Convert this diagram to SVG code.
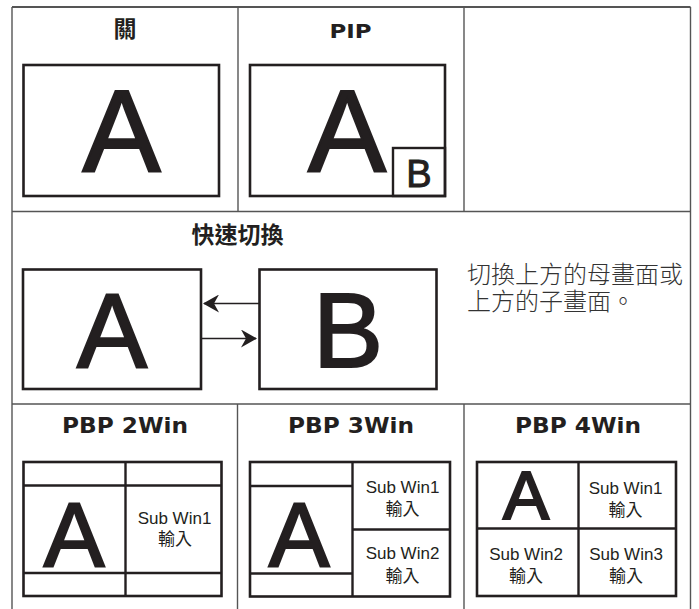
<svg xmlns="http://www.w3.org/2000/svg" width="699" height="609" viewBox="0 0 699 609">
<style>
.grid{stroke:#555;stroke-width:1.4;fill:none}
.box{stroke:#231f20;stroke-width:2.6;fill:none}
.in{stroke:#231f20;stroke-width:2.4;fill:none}
.big{font-family:"Liberation Sans",Arial,sans-serif;fill:#231f20;stroke:#231f20;stroke-width:2.2;text-anchor:middle}
.ttl{font-family:"DejaVu Sans","Liberation Sans",sans-serif;font-weight:bold;fill:#231f20;text-anchor:middle}
.cjk{font-family:"Noto Sans CJK TC","Noto Sans CJK SC",sans-serif;fill:#231f20;text-anchor:middle}
.sub{font-family:"Liberation Sans","Noto Sans CJK TC",sans-serif;font-size:17px;fill:#231f20;text-anchor:middle}
.arr{stroke:#231f20;stroke-width:1.5;fill:none}
</style>
<defs>
<marker id="ah" viewBox="0 0 16 18" refX="15" refY="9" markerWidth="16" markerHeight="18" markerUnits="userSpaceOnUse" orient="auto">
<path d="M0,0 L16,9 L0,18 L5,9 Z" fill="#231f20"/>
</marker>
</defs>
<rect width="699" height="609" fill="#fff"/>
<g id="table">
<line class="grid" x1="12" y1="7" x2="690.5" y2="7" style="stroke-width:2"/>
<line class="grid" x1="12" y1="7" x2="12" y2="609"/>
<line class="grid" x1="690.5" y1="7" x2="690.5" y2="609"/>
<line class="grid" x1="238" y1="7" x2="238" y2="211.5"/>
<line class="grid" x1="464" y1="7" x2="464" y2="211.5"/>
<line class="grid" x1="12" y1="211.5" x2="690.5" y2="211.5"/>
<line class="grid" x1="12" y1="404" x2="690.5" y2="404"/>
<line class="grid" x1="237.5" y1="404" x2="237.5" y2="609"/>
<line class="grid" x1="464" y1="404" x2="464" y2="609"/>
</g>
<g id="off">
<text class="cjk" x="125" y="37" font-size="23" font-weight="bold">關</text>
<rect class="box" x="23.5" y="65" width="195.5" height="131"/>
<text class="big" x="121.5" y="172" font-size="117">A</text>
</g>
<g id="pip">
<text class="ttl" x="350.5" y="38" font-size="20" textLength="42" lengthAdjust="spacingAndGlyphs">PIP</text>
<rect class="box" x="250" y="65" width="195" height="131"/>
<text class="big" x="347" y="172" font-size="117">A</text>
<rect class="in" x="393" y="148" width="52" height="48"/>
<text class="big" x="419" y="186.5" font-size="38" style="stroke-width:1">B</text>
</g>
<g id="swap">
<text class="cjk" x="237.5" y="243" font-size="23" font-weight="bold">快速切換</text>
<g id="swapA">
<rect class="box" x="23" y="269.5" width="178" height="119.5"/>
<text class="big" x="112" y="367" font-size="105">A</text>
</g>
<g id="swapB">
<rect class="box" x="259.5" y="269.5" width="177" height="119.5"/>
<text class="big" x="348" y="367" font-size="105">B</text>
</g>
<text class="cjk" font-size="24" font-weight="300" style="text-anchor:start;fill:#333"><tspan x="467" y="283">切換上方的母畫面或</tspan><tspan x="467" y="310">上方的子畫面。</tspan></text>
</g>
<g id="connectors">
<line class="arr" x1="259" y1="303.5" x2="204" y2="303.5" marker-end="url(#ah)"/>
<line class="arr" x1="202" y1="338.5" x2="256" y2="338.5" marker-end="url(#ah)"/>
</g>
<g id="pbp2">
<text class="ttl" x="125" y="433" font-size="20.5" textLength="126" lengthAdjust="spacingAndGlyphs">PBP 2Win</text>
<rect class="box" x="23.5" y="462" width="198" height="134"/>
<line class="in" x1="125.5" y1="462" x2="125.5" y2="596"/>
<line class="in" x1="23.5" y1="485.5" x2="221.5" y2="485.5"/>
<line class="in" x1="23.5" y1="573" x2="221.5" y2="573"/>
<text class="big" x="74" y="566" font-size="91">A</text>
<text class="sub" x="174.5" y="523.5">Sub Win1</text>
<text class="sub" x="175" y="545">輸入</text>
</g>
<g id="pbp3">
<text class="ttl" x="351" y="433" font-size="20.5" textLength="126" lengthAdjust="spacingAndGlyphs">PBP 3Win</text>
<rect class="box" x="250" y="462" width="200" height="134.5"/>
<line class="in" x1="352.5" y1="462" x2="352.5" y2="596.5"/>
<line class="in" x1="250" y1="486" x2="352.5" y2="486"/>
<line class="in" x1="250" y1="573.5" x2="352.5" y2="573.5"/>
<line class="in" x1="352.5" y1="529.5" x2="450" y2="529.5"/>
<text class="big" x="299" y="566" font-size="91">A</text>
<text class="sub" x="402.5" y="493">Sub Win1</text>
<text class="sub" x="402.5" y="515">輸入</text>
<text class="sub" x="402.5" y="559">Sub Win2</text>
<text class="sub" x="402.5" y="581.5">輸入</text>
</g>
<g id="pbp4">
<text class="ttl" x="578" y="433" font-size="20.5" textLength="126" lengthAdjust="spacingAndGlyphs">PBP 4Win</text>
<rect class="box" x="477" y="462" width="199" height="134"/>
<line class="in" x1="578.5" y1="462" x2="578.5" y2="596"/>
<line class="in" x1="477" y1="528.5" x2="676" y2="528.5"/>
<text class="big" x="526" y="518.5" font-size="69">A</text>
<text class="sub" x="625.5" y="494">Sub Win1</text>
<text class="sub" x="625.5" y="516">輸入</text>
<text class="sub" x="526" y="560">Sub Win2</text>
<text class="sub" x="526" y="582">輸入</text>
<text class="sub" x="626" y="560">Sub Win3</text>
<text class="sub" x="626" y="582">輸入</text>
</g>
</svg>
